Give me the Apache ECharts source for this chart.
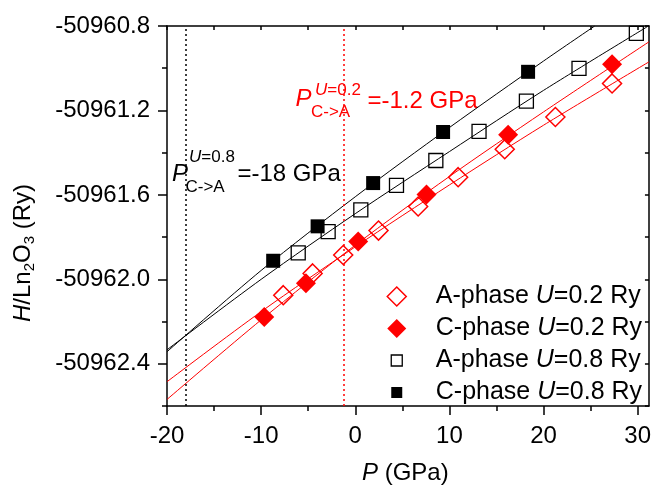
<!DOCTYPE html>
<html><head><meta charset="utf-8">
<script src="https://cdn.jsdelivr.net/npm/echarts@6/dist/echarts.min.js"></script>
<style>html,body{margin:0;padding:0;background:#fff}#c{width:654px;height:488px}</style>
</head><body><div id="c"></div>
<script>
// ---- tick values ----
const xTickLabels = [-20, -10, 0, 10, 20, 30];
const xMinorTicks = [-15, -5, 5, 15, 25];
const xTopTicks = [-20, -15, -10, -5, 0, 5, 10, 15, 20, 25, 30];
const yTickLabels = [-50960.8, -50961.2, -50961.6, -50962.0, -50962.4];
const yMinorTicks = [-50961.0, -50961.4, -50961.8, -50962.2, -50962.6];
const yRightTicks = [-50960.8, -50961.0, -50961.2, -50961.4, -50961.6, -50961.8, -50962.0, -50962.2, -50962.4, -50962.6];

// ---- series names ----
const seriesNames = ['A-phase U=0.2 Ry', 'C-phase U=0.2 Ry', 'A-phase U=0.8 Ry', 'C-phase U=0.8 Ry'];

// ---- data points (P in GPa, H in Ry) ----
const pA02 = [-7.65, -4.53, -1.28, 2.47, 6.68, 10.93, 15.88, 21.26, 27.28];
const hA02 = [-50962.075, -50961.972, -50961.885, -50961.769, -50961.655, -50961.516, -50961.384, -50961.231, -50961.072];
const pC02 = [-9.67, -5.24, 0.31, 7.57, 16.24, 27.28];
const hC02 = [-50962.178, -50962.018, -50961.821, -50961.598, -50961.315, -50960.981];
const pA08 = [-6.06, -2.88, 0.59, 4.38, 8.56, 13.15, 18.18, 23.77, 29.86];
const hA08 = [-50961.875, -50961.774, -50961.671, -50961.555, -50961.437, -50961.299, -50961.156, -50961.001, -50960.835];
const pC08 = [-8.72, -4.0, 1.9, 9.33, 18.36];
const hC08 = [-50961.912, -50961.749, -50961.544, -50961.302, -50961.017];

// ---- fitted curves ----
const fitPA02 = [-20, -10, 0, 10, 20, 31.2];
const fitHA02 = [-50962.485, -50962.153, -50961.846, -50961.553, -50961.270, -50960.970];
const fitPC02 = [-20, -10, 0, 10, 20, 31.2];
const fitHC02 = [-50962.569, -50962.192, -50961.838, -50961.513, -50961.207, -50960.875];
const fitPA08 = [-20, -10, 0, 10, 20, 31.0];
const fitHA08 = [-50962.334, -50962.000, -50961.689, -50961.395, -50961.105, -50960.804];
const fitPC08 = [-20, -10, 0, 10, 20, 25.44];
const fitHC08 = [-50962.343, -50961.958, -50961.609, -50961.281, -50960.966, -50960.800];

// ---- transition pressures ----
const transU08 = -18;
const transU02 = -1.2;

const zip = (a, b) => a.map((v, i) => [v, b[i]]);
const FONT = 'Liberation Sans, Arial, Helvetica, sans-serif';
const RED = '#ff0000';

const chart = echarts.init(document.getElementById('c'), null, {renderer: 'canvas'});

const axisLineStyle = {color: '#000', width: 1.5};
const tickLine = {color: '#000', width: 1.5};
const hiddenLine = {show: false, onZero: false};
const baseX = {type: 'value', min: -20, max: 31.2, splitLine: {show: false}, axisLabel: {show: false}, axisTick: {show: false}, axisLine: hiddenLine};
const baseY = {type: 'value', min: -50962.6, max: -50960.8, interval: 0.2, splitLine: {show: false}, axisLabel: {show: false}, axisTick: {show: false}, axisLine: hiddenLine};

function legendFmt(name) {
  const k = name.indexOf(' U=');
  return '{n|' + name.slice(0, k + 1) + '}{i|U}{n|' + name.slice(k + 2) + '}';
}

// icons drawn inside a 68x20 box (invisible moveTo points fix the box)
const diamondIcon = 'path://M0,0M68,20M34,0.5L43.5,10L34,19.5L24.5,10Z';
const squareIcon = 'path://M0,0M68,20M28.5,4.5h11v11h-11Z';

function richText(x, y, text, color, big) {
  const s = big ? 24 : 17;
  return {type: 'text', x: x, y: y, silent: true,
    style: {text: text, align: 'left', verticalAlign: 'middle', textAlign: 'left', textVerticalAlign: 'middle',
      rich: {n: {fontSize: s, fontFamily: FONT, fill: color, color: color},
             i: {fontSize: s, fontFamily: FONT, fill: color, color: color, fontStyle: 'italic'}}}};
}

const option = {
  animation: false,
  backgroundColor: '#fff',
  grid: [
    {left: 167, right: 5, top: 26, bottom: 82, containLabel: false},
    {left: 167, right: 5, top: 26, bottom: 82, containLabel: false}
  ],
  xAxis: [
    Object.assign({}, baseX, {
      gridIndex: 0, position: 'bottom', interval: 10,
      axisLine: {show: true, onZero: false, lineStyle: axisLineStyle},
      axisTick: {show: true, customValues: xTickLabels, length: 9, lineStyle: tickLine},
      axisLabel: {show: true, customValues: xTickLabels, color: '#000', fontSize: 24, fontFamily: FONT, margin: 18,
        formatter: v => (Math.abs(v % 10) < 1e-9 ? String(Math.round(v)) : '')}
    }),
    Object.assign({}, baseX, {
      gridIndex: 0, position: 'top', interval: 5,
      axisLine: {show: true, onZero: false, lineStyle: axisLineStyle},
      axisTick: {show: true, inside: true, customValues: xTopTicks, length: 4, lineStyle: tickLine}
    }),
    Object.assign({}, baseX, {
      gridIndex: 1, position: 'bottom', interval: 5,
      axisTick: {show: true, customValues: xMinorTicks, length: 5, lineStyle: tickLine}
    })
  ],
  yAxis: [
    Object.assign({}, baseY, {
      gridIndex: 0, position: 'left',
      axisLine: {show: true, onZero: false, lineStyle: axisLineStyle},
      axisTick: {show: true, customValues: yTickLabels, length: 9, lineStyle: tickLine},
      axisLabel: {show: true, customValues: yTickLabels, color: '#000', fontSize: 24, fontFamily: FONT, margin: 17,
        formatter: v => (Math.round(v * 10) % 4 === 0 ? v.toFixed(1) : '')}
    }),
    Object.assign({}, baseY, {
      gridIndex: 0, position: 'right',
      axisLine: {show: true, onZero: false, lineStyle: axisLineStyle},
      axisTick: {show: true, inside: true, customValues: yRightTicks, length: 4, lineStyle: tickLine}
    }),
    Object.assign({}, baseY, {
      gridIndex: 1, position: 'left',
      axisTick: {show: true, customValues: yMinorTicks, length: 5, lineStyle: tickLine}
    })
  ],
  legend: {
    orient: 'vertical', left: 362, top: 284, padding: 0,
    itemWidth: 68, itemHeight: 20, itemGap: 7,
    formatter: legendFmt,
    textStyle: {color: '#000', fontSize: 25, fontFamily: FONT,
      rich: {
        n: {fontSize: 25, fontFamily: FONT, color: '#000'},
        i: {fontSize: 25, fontFamily: FONT, color: '#000', fontStyle: 'italic'}
      }},
    data: [
      {name: seriesNames[0], icon: diamondIcon, itemStyle: {color: 'rgba(0,0,0,0)', borderColor: RED, borderWidth: 1.5}},
      {name: seriesNames[1], icon: diamondIcon, itemStyle: {color: RED, borderWidth: 0}},
      {name: seriesNames[2], icon: squareIcon, itemStyle: {color: 'rgba(0,0,0,0)', borderColor: '#000', borderWidth: 1.3}},
      {name: seriesNames[3], icon: squareIcon, itemStyle: {color: '#000', borderWidth: 0}}
    ]
  },
  series: [
    {type: 'line', name: 'fitA02', xAxisIndex: 0, yAxisIndex: 0, data: zip(fitPA02, fitHA02), smooth: 0.3, symbol: 'none', lineStyle: {color: RED, width: 1}, silent: true,
      markLine: {silent: true, symbol: 'none', label: {show: false},
        lineStyle: {type: [2, 3], width: 1.5},
        data: [{xAxis: transU08, lineStyle: {color: '#000'}}, {xAxis: transU02, lineStyle: {color: RED}}]}},
    {type: 'line', name: 'fitC02', xAxisIndex: 0, yAxisIndex: 0, data: zip(fitPC02, fitHC02), smooth: 0.3, symbol: 'none', lineStyle: {color: RED, width: 1}, silent: true},
    {type: 'line', name: 'fitA08', xAxisIndex: 0, yAxisIndex: 0, data: zip(fitPA08, fitHA08), smooth: 0.3, symbol: 'none', lineStyle: {color: '#000', width: 1}, silent: true},
    {type: 'line', name: 'fitC08', xAxisIndex: 0, yAxisIndex: 0, data: zip(fitPC08, fitHC08), smooth: 0.3, symbol: 'none', lineStyle: {color: '#000', width: 1}, silent: true},
    {type: 'scatter', name: seriesNames[0], xAxisIndex: 0, yAxisIndex: 0, data: zip(pA02, hA02), symbol: 'diamond', symbolSize: 19,
      itemStyle: {color: 'rgba(0,0,0,0)', borderColor: RED, borderWidth: 1.5, opacity: 1}},
    {type: 'scatter', name: seriesNames[1], xAxisIndex: 0, yAxisIndex: 0, data: zip(pC02, hC02), symbol: 'diamond', symbolSize: 20,
      itemStyle: {color: RED, opacity: 1}},
    {type: 'scatter', name: seriesNames[2], xAxisIndex: 0, yAxisIndex: 0, data: zip(pA08, hA08), symbol: 'rect', symbolSize: 14,
      itemStyle: {color: 'rgba(0,0,0,0)', borderColor: '#000', borderWidth: 1.3, opacity: 1}},
    {type: 'scatter', name: seriesNames[3], xAxisIndex: 0, yAxisIndex: 0, data: zip(pC08, hC08), symbol: 'rect', symbolSize: 14,
      itemStyle: {color: '#000', opacity: 1}}
  ],
  graphic: [
    // y axis title
    {type: 'text', x: 23, y: 253, rotation: Math.PI / 2, silent: true,
      style: {text: '{i|H}{n|/Ln}{s|2}{n|O}{s|3}{n| (Ry)}', align: 'center', verticalAlign: 'middle',
        textAlign: 'center', textVerticalAlign: 'middle',
        rich: {
          n: {fontSize: 24, fontFamily: FONT, fill: '#000', color: '#000', lineHeight: 28, verticalAlign: 'middle'},
          i: {fontSize: 24, fontFamily: FONT, fill: '#000', color: '#000', fontStyle: 'italic', lineHeight: 28, verticalAlign: 'middle'},
          s: {fontSize: 15, fontFamily: FONT, fill: '#000', color: '#000', lineHeight: 15, verticalAlign: 'bottom'}
        }}},
    // x axis title
    richText(362, 473, '{i|P}{n| (GPa)}', '#000', true),
    // annotation U=0.8 (black)
    richText(172, 174, '{i|P}', '#000', true),
    richText(189, 157, '{i|U}{n|=0.8}', '#000', false),
    richText(185.5, 187.5, '{n|C->A}', '#000', false),
    richText(237.5, 174.5, '{n|=-18 GPa}', '#000', true),
    // annotation U=0.2 (red)
    richText(295.5, 99.5, '{i|P}', RED, true),
    richText(315, 90, '{i|U}{n|=0.2}', RED, false),
    richText(311, 112.5, '{n|C->A}', RED, false),
    richText(367.5, 101, '{n|=-1.2 GPa}', RED, true)
  ]
};
chart.setOption(option);
</script>
</body></html>
